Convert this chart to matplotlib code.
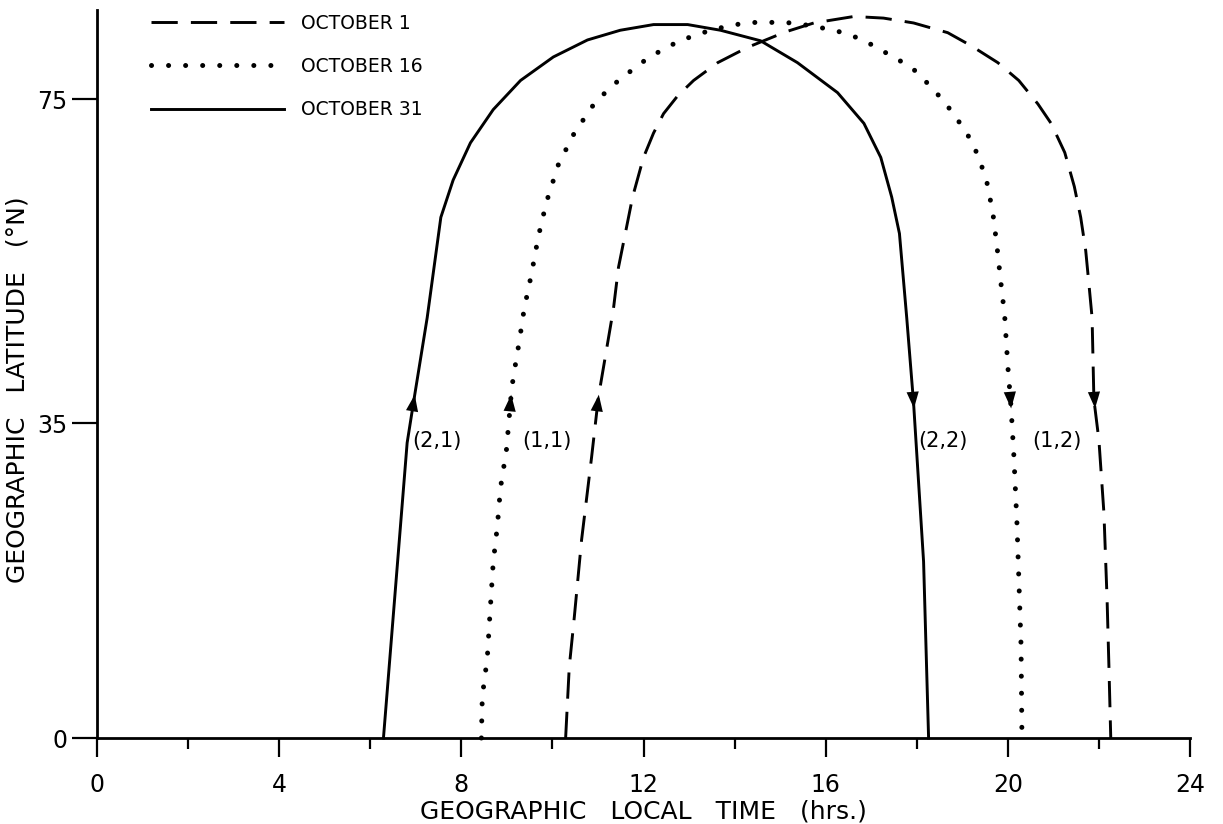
import numpy as np
import matplotlib
matplotlib.use("Agg")
import matplotlib.pyplot as plt

# Satellite ground-track crossings, local time (hrs) vs geographic latitude (deg N)
oct1_hours = [10.29, 10.37, 10.48, 10.64, 10.86, 11.01, 11.34, 11.45, 11.60, 11.76,
              12.00, 12.22, 12.44, 12.75, 13.10, 13.63, 14.29, 15.12, 15.74, 16.62,
              17.27, 17.93, 18.68, 19.19, 19.78, 20.24, 20.66, 20.95, 21.25, 21.46,
              21.60, 21.71, 21.78, 21.85, 21.89, 22.00, 22.11, 22.18, 22.22, 22.26]
oct1_lat = [0.0, 7.9, 13.4, 22.0, 31.2, 38.2, 49.1, 54.2, 58.4, 62.9,
            67.8, 70.8, 73.2, 75.4, 77.3, 79.5, 81.4, 83.3, 84.4, 85.2,
            85.0, 84.4, 83.2, 81.6, 79.5, 77.3, 74.4, 72.0, 68.4, 64.2,
            60.4, 56.3, 52.2, 48.0, 37.9, 33.1, 25.0, 15.3, 7.9, 0.0]

oct16_hours = [8.44, 8.46, 8.57, 8.62, 8.70, 8.79, 8.86, 8.99, 9.10, 9.14,
               9.27, 9.38, 9.54, 9.69, 9.87, 10.13, 10.48, 10.95, 11.47, 12.13,
               12.79, 13.52, 14.22, 14.59, 15.32, 16.20, 16.79, 17.36, 17.89, 18.37,
               18.81, 19.23, 19.52, 19.67, 19.76, 19.85, 19.93, 20.00, 20.07, 20.13,
               20.20, 20.24, 20.29, 20.31]
oct16_lat = [0.0, 4.6, 8.9, 13.1, 19.5, 23.5, 27.8, 32.0, 38.9, 40.6,
             45.0, 49.1, 53.4, 58.0, 62.3, 66.9, 70.8, 74.7, 77.4, 80.2,
             82.2, 83.6, 84.4, 84.5, 84.4, 83.5, 82.4, 80.6, 78.9, 76.2,
             73.2, 69.6, 65.3, 61.0, 56.9, 52.2, 48.3, 42.0, 37.0, 31.6,
             23.9, 17.9, 10.3, 0.0]

oct31_hours = [6.29, 6.81, 6.96, 7.25, 7.55, 7.82, 8.20, 8.70, 9.30, 10.02,
               10.77, 11.49, 12.22, 12.97, 13.69, 14.57, 15.38, 16.26, 16.84, 17.21,
               17.45, 17.62, 17.78, 17.93, 18.15, 18.26]
oct31_lat = [0.0, 32.8, 37.9, 48.0, 60.4, 65.0, 69.6, 73.7, 77.3, 80.2,
             82.3, 83.5, 84.2, 84.2, 83.5, 82.2, 79.5, 75.8, 72.0, 67.8,
             62.9, 58.4, 48.0, 37.5, 19.6, 0.0]

dates = ["OCTOBER 1", "OCTOBER 16", "OCTOBER 31"]

# (label, hour, latitude) for the crossing annotations
crossing_labels = [("(2,1)", 7.47, 33.0), ("(1,1)", 9.89, 33.0),
                   ("(2,2)", 18.58, 33.0), ("(1,2)", 21.08, 33.0)]

# arrowhead (base, tip) latitudes on the rising and setting branches
rise_arrow = (35.5, 38.5)
set_arrow = (39.5, 36.8)

x_ticks = [0, 4, 8, 12, 16, 20, 24]
x_minor = [2, 6, 10, 14, 18, 22]
y_ticks = [0, 35, 75]

# the latitude axis is drawn with a slightly tighter spacing above 35 deg
lat_knots = [-50.0, 0.0, 35.0, 75.0, 120.0]
pos_knots = [-450.0, 0.0, 315.0, 639.0, 1003.5]


def lat_forward(y):
    return np.interp(y, lat_knots, pos_knots)


def lat_inverse(u):
    return np.interp(u, pos_knots, lat_knots)


def branch_hour(hours, lat, at, rising):
    hours = np.asarray(hours)
    lat = np.asarray(lat)
    peak = int(np.argmax(lat))
    if rising:
        return np.interp(at, lat[:peak + 1], hours[:peak + 1])
    return np.interp(at, lat[peak:][::-1], hours[peak:][::-1])


def add_arrows(ax, hours, lat):
    for (base, tip), rising in ((rise_arrow, True), (set_arrow, False)):
        ax.annotate(
            "",
            xy=(branch_hour(hours, lat, tip, rising), tip),
            xytext=(branch_hour(hours, lat, base, rising), base),
            arrowprops=dict(arrowstyle="-|>,head_length=0.6,head_width=0.22",
                            mutation_scale=20, color="black", lw=0,
                            shrinkA=0, shrinkB=0),
        )


plt.rcParams["font.family"] = ["DejaVu Sans"]
fig = plt.figure(figsize=(12.23, 8.24), dpi=100)
ax = fig.add_axes([97 / 1223, 86 / 824, 1093 / 1223, 728 / 824])
ax.set_yscale("function", functions=(lat_forward, lat_inverse))

ax.plot(oct1_hours, oct1_lat, color="black", lw=2.1, linestyle=(0, (9, 4.5)),
        label=dates[0], clip_on=False)
ax.plot(oct16_hours, oct16_lat, color="black", lw=3.6, linestyle=(0, (0.01, 3.4)),
        dash_capstyle="round", label=dates[1], clip_on=False)
ax.plot(oct31_hours, oct31_lat, color="black", lw=2.1, linestyle="-",
        label=dates[2], clip_on=False)

add_arrows(ax, oct1_hours, oct1_lat)
add_arrows(ax, oct16_hours, oct16_lat)
add_arrows(ax, oct31_hours, oct31_lat)

for text, h, lat in crossing_labels:
    ax.text(h, lat, text, fontsize=15, ha="center", va="center")

ax.set_xlim(0, 24)
ax.set_ylim(0, 86.0)
ax.set_xticks(x_ticks)
ax.set_xticks(x_minor, minor=True)
ax.set_yticks(y_ticks)
ax.yaxis.set_minor_locator(matplotlib.ticker.NullLocator())
ax.tick_params(axis="x", which="major", direction="out", length=14, width=1.6,
               labelsize=17, pad=11)
ax.tick_params(axis="x", which="minor", direction="out", length=8, width=1.6)
ax.tick_params(axis="y", which="major", direction="out", length=18, width=1.6,
               labelsize=17, pad=3)

for side in ("top", "right"):
    ax.spines[side].set_visible(False)
for side in ("left", "bottom"):
    ax.spines[side].set_linewidth(2.0)

ax.set_xlabel("GEOGRAPHIC   LOCAL   TIME   (hrs.)", fontsize=18, labelpad=2)
ax.set_ylabel("GEOGRAPHIC   LATITUDE   (°N)", fontsize=18)
ax.yaxis.set_label_coords(-0.062, 0.478)

legend = ax.legend(loc="upper left", bbox_to_anchor=(0.049, 0.995), frameon=False,
                   fontsize=13.5, handlelength=7.1, handletextpad=0.9,
                   labelspacing=1.3, borderpad=0, borderaxespad=0)

plt.savefig("out.png", dpi=100)
